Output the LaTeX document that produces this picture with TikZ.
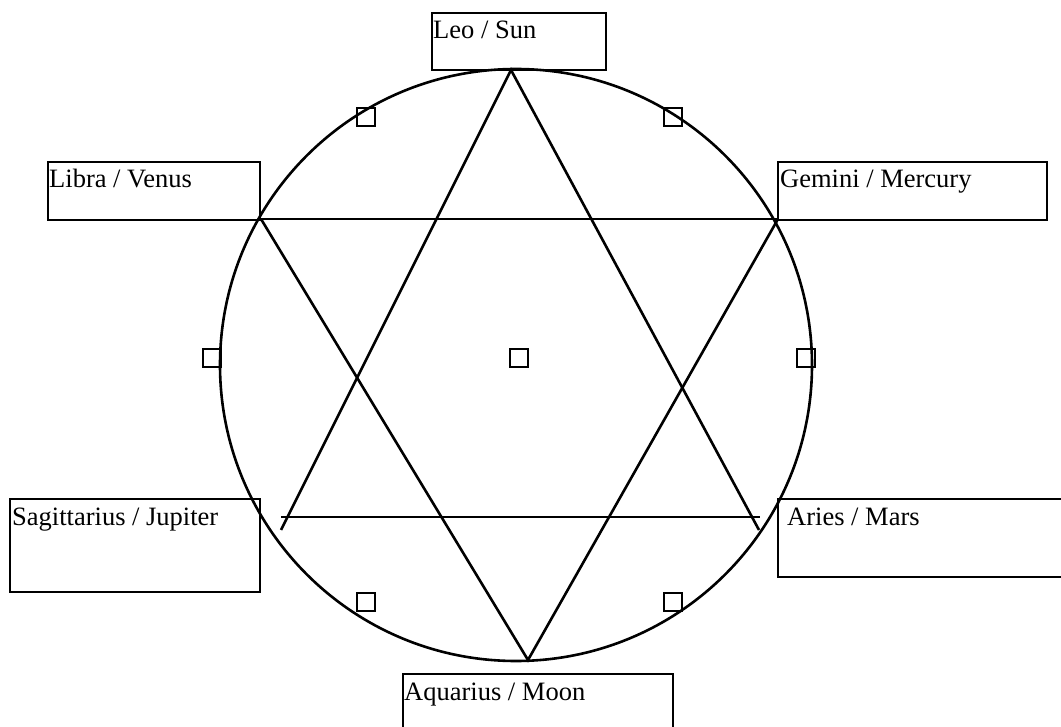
\documentclass[tikz,border=0pt]{standalone}
\usepackage{fontspec}
\setmainfont{Liberation Serif}
\begin{document}
\begin{tikzpicture}[x=1pt,y=-1pt,
  ln/.style={line width=2.6pt,black},
  box/.style={draw,line width=2.8pt,rectangle,inner sep=0pt,outer sep=0pt,anchor=north west},
  lab/.style={anchor=base west,inner sep=0pt,font=\fontsize{26.5}{30}\selectfont},
  sq/.style={draw,line width=2.6pt,rectangle,minimum width=18pt,minimum height=18pt,inner sep=0pt}]
\useasboundingbox (0,0) rectangle (1061,727);
% boxes
\node[box,minimum width=174pt,minimum height=57pt] (leo) at (432,13) {};
\node[box,minimum width=212pt,minimum height=58pt] (libra) at (48,162) {};
\node[box,minimum width=269pt,minimum height=58pt] (gemini) at (778,162) {};
\node[box,minimum width=250pt,minimum height=93pt] (sag) at (10,499) {};
\node[box,minimum width=290pt,minimum height=78pt] (aries) at (778,499) {};
\node[box,minimum width=270pt,minimum height=70pt] (aqu) at (403,674) {};
\node[lab] (tleo) at (433,39) {Leo / Sun};
\node[lab] (tlibra) at (49,188) {Libra / Venus};
\node[lab] (tgemini) at (780,188) {Gemini / Mercury};
\node[lab] (tsag) at (12,525) {Sagittarius / Jupiter};
\node[lab] (taries) at (787,525) {Aries / Mars};
\node[lab] (taqu) at (404,700) {Aquarius / Moon};
% circle
\coordinate (c) at (516,365);
\draw[ln] (c) circle (296);
% star vertices
\coordinate (up) at (511,70);
\coordinate (ul) at (281,530);
\coordinate (ur) at (759,530);
\coordinate (hl) at (281,517);
\coordinate (hr) at (760,517);
\coordinate (dl) at (261,219);
\coordinate (dr) at (778,219);
\coordinate (dn) at (528,660);
\draw[ln] (ul) -- (up) -- (ur);
\draw[ln] (hl) -- (hr);
\draw[ln] (dl) -- (dn) -- (dr);
\draw[ln] (dl) -- (dr);
% small squares
\node[sq] (s1) at (366,117) {};
\node[sq] (s2) at (673,117) {};
\node[sq] (s3) at (212,358) {};
\node[sq] (s4) at (519,358) {};
\node[sq] (s5) at (806,358) {};
\node[sq] (s6) at (366,602) {};
\node[sq] (s7) at (673,602) {};
\end{tikzpicture}
\end{document}
